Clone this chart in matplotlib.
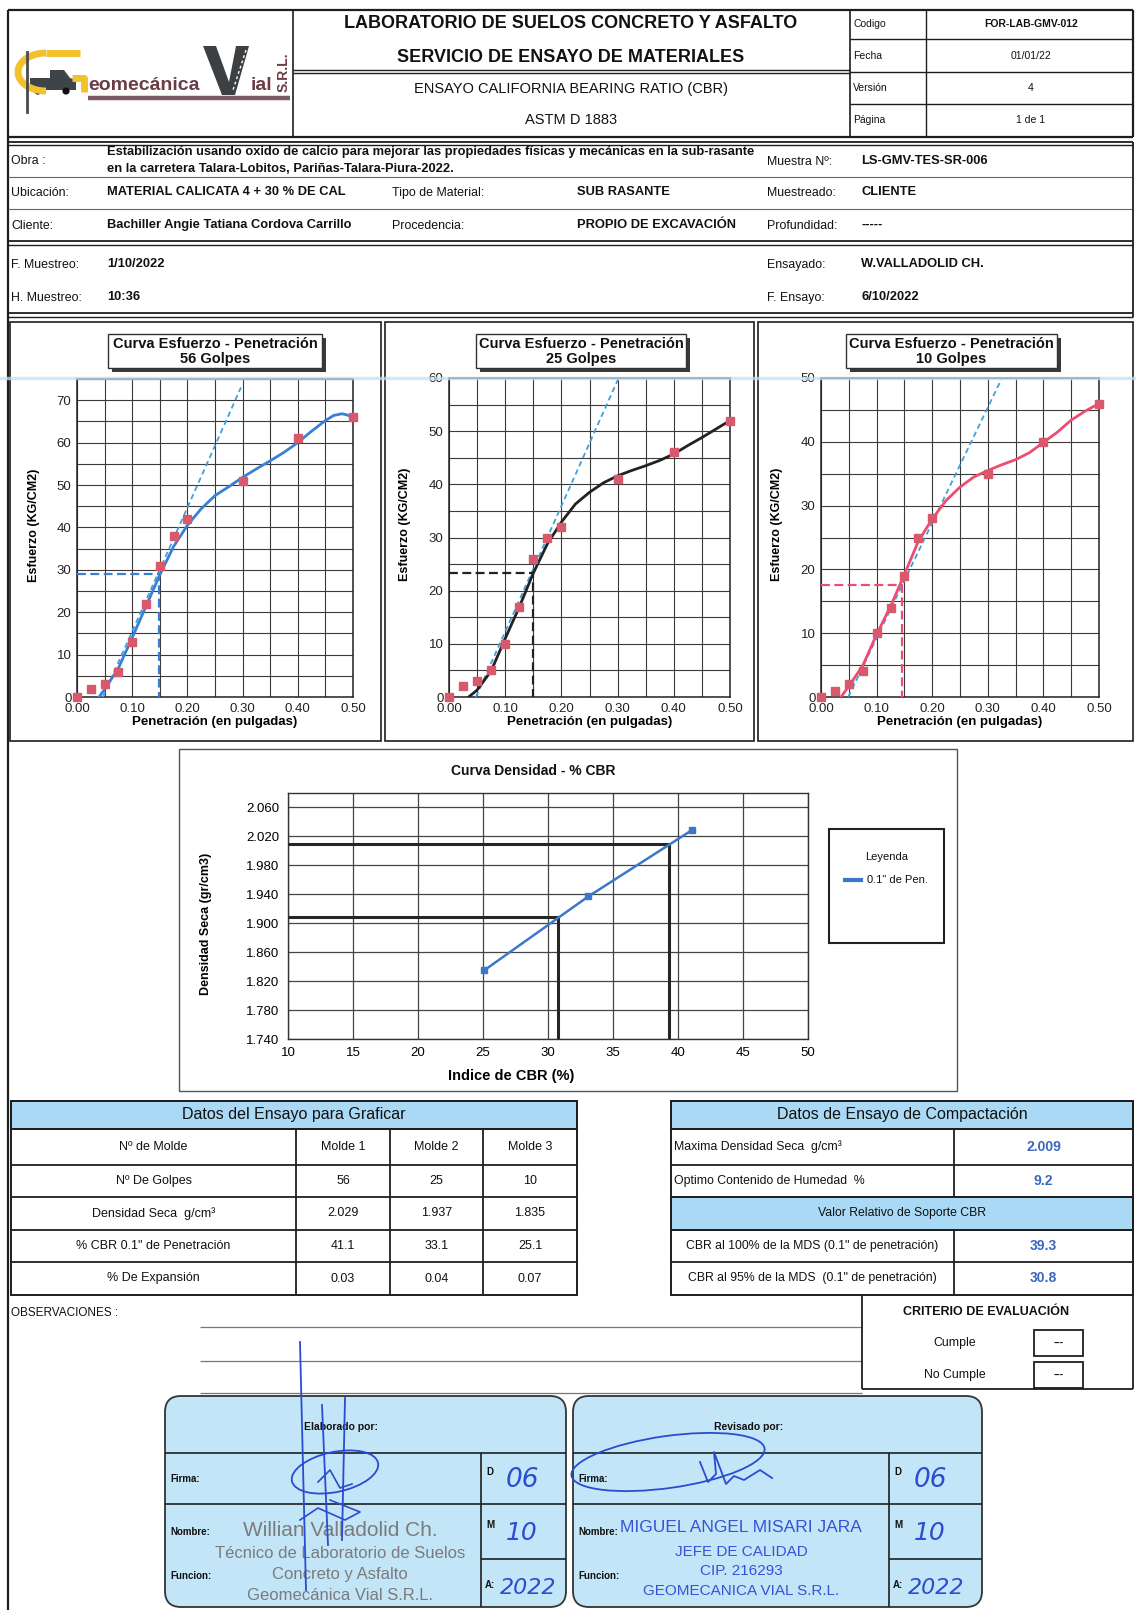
import numpy as np
import matplotlib
matplotlib.use("Agg")
import matplotlib.pyplot as plt
from matplotlib.patches import Rectangle, FancyBboxPatch, Ellipse, Polygon, Circle
from matplotlib.lines import Line2D

# ---------------------------------------------------------------- data
penetration = [0.0, 0.025, 0.05, 0.075, 0.10, 0.125, 0.15, 0.175, 0.20, 0.30, 0.40, 0.50]
stress_56 = [0, 2, 3, 6, 13, 22, 31, 38, 42, 51, 61, 66]
stress_25 = [0, 2, 3, 5, 10, 17, 26, 30, 32, 41, 46, 52]
stress_10 = [0, 1, 2, 4, 10, 14, 19, 25, 28, 35, 40, 46]

# fitted (corrected) stress-penetration curves
curve_x_56 = [0.040, 0.05, 0.075, 0.10, 0.125, 0.15, 0.175, 0.20, 0.225, 0.25, 0.275, 0.30,
              0.325, 0.35, 0.375, 0.40, 0.425, 0.45, 0.465, 0.48, 0.49, 0.50]
curve_y_56 = [0.0, 1.8, 6.8, 14.0, 21.4, 28.8, 35.5, 40.5, 44.4, 47.5, 49.6, 51.8,
              53.8, 55.7, 57.7, 60.0, 62.7, 65.2, 66.4, 66.8, 66.5, 65.8]
curve_x_25 = [0.035, 0.05, 0.075, 0.10, 0.125, 0.15, 0.175, 0.20, 0.225, 0.25, 0.275, 0.30,
              0.325, 0.35, 0.375, 0.40, 0.425, 0.45, 0.475, 0.50]
curve_y_25 = [0.0, 1.3, 4.9, 11.0, 16.9, 23.3, 28.8, 32.9, 36.3, 38.5, 40.3, 41.6,
              42.6, 43.5, 44.5, 45.7, 47.3, 48.8, 50.4, 52.0]
curve_x_10 = [0.036, 0.05, 0.075, 0.10, 0.125, 0.15, 0.175, 0.20, 0.225, 0.25, 0.275, 0.30,
              0.325, 0.35, 0.375, 0.40, 0.425, 0.45, 0.475, 0.50]
curve_y_10 = [0.0, 1.7, 4.9, 9.8, 14.2, 19.2, 24.4, 27.9, 30.8, 32.9, 34.5, 35.5,
              36.4, 37.2, 38.3, 39.9, 41.5, 43.4, 44.8, 46.0]

# tangent lines (x0, y0, x1, y1)
tangent_56 = [0.047, 0.0, 0.297, 73.0]
tangent_25 = [0.048, 0.0, 0.301, 59.8]
tangent_10 = [0.049, 0.0, 0.325, 49.9]

# corrected stress at 0.1" (kg/cm2) and its abscissa on the raw axis
corr_56 = [0.149, 28.9]
corr_25 = [0.149, 23.3]
corr_10 = [0.145, 17.6]

molde_labels = ["Molde 1", "Molde 2", "Molde 3"]
golpes = [56, 25, 10]
densidad = [2.029, 1.937, 1.835]
cbr_01 = [41.1, 33.1, 25.1]
expansion = [0.03, 0.04, 0.07]

mds = 2.009
omc = 9.2
cbr_100 = 39.3
cbr_95 = 30.8

density_ticks = [1.740, 1.780, 1.820, 1.860, 1.900, 1.940, 1.980, 2.020, 2.060]
cbr_ticks = [10, 15, 20, 25, 30, 35, 40, 45, 50]

# ---------------------------------------------------------------- page
W, H = 1136, 1614
fig = plt.figure(figsize=(W / 100, H / 100), dpi=100)
fig.patch.set_facecolor("white")
bg = fig.add_axes([0, 0, 1, 1])
bg.set_xlim(0, W)
bg.set_ylim(H, 0)
bg.axis("off")

NARROW = ["Liberation Sans Narrow", "Liberation Sans", "DejaVu Sans"]
ARIAL = ["Liberation Sans", "DejaVu Sans"]
plt.rcParams["font.family"] = ARIAL

INK = "#1e1e1e"
BLUE_FILL = "#a9d9f5"
VAL_BLUE = "#3a68c0"
PEN = "#2a4ccf"


def px_axes(x0, y0, x1, y1):
    return fig.add_axes([x0 / W, 1 - y1 / H, (x1 - x0) / W, (y1 - y0) / H])


def line(x0, y0, x1, y1, lw=1.0, color=INK, **kw):
    bg.plot([x0, x1], [y0, y1], color=color, lw=lw, solid_capstyle="butt", **kw)


def txt(x, y, s, size=8.5, weight="normal", ha="left", color="#111", family=ARIAL, **kw):
    bg.text(x, y, s, fontsize=size, fontweight=weight, ha=ha, va="center",
            color=color, family=family, **kw)


def box(x0, y0, x1, y1, lw=1.2, fc="none", ec=INK, z=1):
    bg.add_patch(Rectangle((x0, y0), x1 - x0, y1 - y0, fill=fc != "none",
                           facecolor=fc, edgecolor=ec, lw=lw, zorder=z))


# ---------------------------------------------------------------- header
line(8, 10, 1133, 10, lw=1.6)
line(8, 10, 8, 1610, lw=1.6)
line(1133, 10, 1133, 137, lw=1.6)
line(8, 137, 1133, 137, lw=1.6)
line(293, 10, 293, 137, lw=1.2)
line(850, 10, 850, 137, lw=1.2)
line(926, 10, 926, 137, lw=1.0)
for yy in (39, 72, 104):
    line(850, yy, 1133, yy, lw=1.0)
line(293, 70, 850, 70, lw=1.0)
line(293, 73, 850, 73, lw=1.0)

txt(571, 23, "LABORATORIO DE SUELOS CONCRETO Y ASFALTO", 13, "bold", "center", family=NARROW)
txt(571, 57, "SERVICIO DE ENSAYO DE MATERIALES", 13, "bold", "center", family=NARROW)
txt(571, 89, "ENSAYO CALIFORNIA BEARING RATIO (CBR)", 10.5, "normal", "center", family=NARROW)
txt(571, 120, "ASTM D 1883", 10.5, "normal", "center", family=NARROW)
for yy, lab, val in [(24, "Codigo", "FOR-LAB-GMV-012"), (56, "Fecha", "01/01/22"),
                     (88, "Versión", "4"), (120, "Página", "1 de 1")]:
    txt(853, yy, lab, 7.5, family=NARROW)
    txt(1031, yy, val, 7.5, "bold" if lab == "Codigo" else "normal", "center", family=NARROW)

# logo
t = np.linspace(np.pi / 2, 3 * np.pi / 2, 40)
bg.plot(46 + 28 * np.cos(t), 72 - 19 * np.sin(t), color="#f2c12e", lw=5, solid_capstyle="butt")
bg.plot([46, 80], [53, 53], color="#f2c12e", lw=5, solid_capstyle="butt")
bg.plot([72, 84, 84], [78, 78, 92], color="#f2c12e", lw=5, solid_capstyle="butt")
bg.plot([27, 27], [52, 112], color="#4a4a4a", lw=2)
bg.add_patch(Polygon([[30, 78], [50, 78], [50, 70], [64, 70], [70, 78], [76, 80],
                      [76, 90], [30, 90]], closed=True, fc="#3e4447", ec="none"))
bg.add_patch(Circle((38, 91), 3.6, fc="#111", ec="none"))
bg.add_patch(Circle((66, 91), 3.6, fc="#111", ec="none"))
txt(88, 85, "eomecánica", 14, "bold", color="#6b3c45", family=NARROW)
bg.plot([88, 290], [98, 98], color="#7d5a66", lw=3.2, solid_capstyle="butt")
bg.add_patch(Polygon([[203, 46], [216, 46], [229, 82], [236, 46], [249, 46], [235, 95], [222, 95]],
                     closed=True, fc="#3c4043", ec="none"))
bg.plot([246, 233], [50, 90], color="white", lw=1, dashes=(2, 2))
txt(251, 85, "ial", 14, "bold", color="#6b3c45", family=NARROW)
txt(284, 72, "S.R.L.", 10, "bold", "center", color="#6b3c45", rotation=90)

# ---------------------------------------------------------------- general info
line(8, 142, 1133, 142, lw=1.3)
line(8, 145, 1133, 145, lw=1.0)
line(8, 177, 1133, 177, lw=0.8, color="#666")
line(8, 209, 1133, 209, lw=0.8, color="#666")
line(8, 241, 1133, 241, lw=1.3)
line(8, 245, 1133, 245, lw=1.0)
line(8, 313, 1133, 313, lw=1.3)
line(8, 317, 1133, 317, lw=1.0)
line(1133, 142, 1133, 317, lw=1.3)

FL = 8.9   # labels
FV = 9.3   # values
txt(11, 161, "Obra :", FL)
txt(107, 152, "Estabilización usando oxido de calcio para mejorar las propiedades físicas y mecánicas en la sub-rasante", FV, "bold")
txt(107, 169, "en la carretera Talara-Lobitos, Pariñas-Talara-Piura-2022.", FV, "bold")
txt(767, 162, "Muestra Nº:", FL)
txt(861, 161, "LS-GMV-TES-SR-006", FV, "bold")
txt(11, 193, "Ubicación:", FL)
txt(107, 192, "MATERIAL CALICATA 4 + 30 % DE CAL", FV, "bold")
txt(392, 193, "Tipo de Material:", FL)
txt(577, 192, "SUB RASANTE", FV, "bold")
txt(767, 193, "Muestreado:", FL)
txt(861, 192, "CLIENTE", FV, "bold")
txt(11, 226, "Cliente:", FL)
txt(107, 225, "Bachiller Angie Tatiana Cordova Carrillo", FV, "bold")
txt(392, 226, "Procedencia:", FL)
txt(577, 225, "PROPIO DE EXCAVACIÓN", FV, "bold")
txt(767, 226, "Profundidad:", FL)
txt(861, 225, "-----", FV, "bold")
txt(11, 265, "F. Muestreo:", FL)
txt(107, 264, "1/10/2022", FV, "bold")
txt(767, 265, "Ensayado:", FL)
txt(861, 264, "W.VALLADOLID CH.", FV, "bold")
txt(11, 298, "H. Muestreo:", FL)
txt(107, 297, "10:36", FV, "bold")
txt(767, 298, "F. Ensayo:", FL)
txt(861, 297, "6/10/2022", FV, "bold")

# ---------------------------------------------------------------- stress-penetration charts
for x0, x1 in [(10, 381), (385, 754), (758, 1133)]:
    box(x0, 322, x1, 741, lw=1.2)


def title_box(x0, x1, golpes_txt):
    bg.add_patch(Rectangle((x0 + 4, 338), x1 - x0, 34, fc="#3a3a3a", ec="none", zorder=2))
    bg.add_patch(Rectangle((x0, 334), x1 - x0, 34, fc="white", ec="#333", lw=1.0, zorder=3))
    bg.text((x0 + x1) / 2, 344, "Curva Esfuerzo - Penetración", fontsize=10.5, fontweight="bold",
            ha="center", va="center", zorder=4, color="#111")
    bg.text((x0 + x1) / 2, 359, golpes_txt, fontsize=10.5, fontweight="bold",
            ha="center", va="center", zorder=4, color="#111")


def stress_chart(rect, ymax, stress, cx, cy, color, tangent, corr, corr_color):
    ax = px_axes(*rect)
    ax.set_xlim(0, 0.5)
    ax.set_ylim(0, ymax)
    ax.set_xticks([0, 0.1, 0.2, 0.3, 0.4, 0.5])
    ax.set_xticklabels(["0.00", "0.10", "0.20", "0.30", "0.40", "0.50"])
    ax.set_xticks([0.05, 0.15, 0.25, 0.35, 0.45], minor=True)
    ax.set_yticks(list(range(0, int(ymax) + 1, 10)))
    ax.set_yticks(list(range(5, int(ymax) + 1, 10)), minor=True)
    ax.grid(which="both", color="#3a3a3a", lw=0.8)
    ax.set_axisbelow(True)
    ax.tick_params(which="both", length=0, labelsize=9.5, colors="#222", pad=4)
    for sp in ax.spines.values():
        sp.set_color("#222")
        sp.set_linewidth(1.1)
    ax.set_ylabel("Esfuerzo (KG/CM2)", fontsize=9, fontweight="bold")
    ax.yaxis.set_label_coords(-0.135, 0.54)
    ax.set_xlabel("Penetración (en pulgadas)", fontsize=9.5, fontweight="bold", labelpad=1)
    ax.plot([tangent[0], tangent[2]], [tangent[1], tangent[3]], color="#3fa0dc", lw=1.3,
            dashes=(3, 2), zorder=3)
    ax.plot([0, corr[0], corr[0]], [corr[1], corr[1], 0], color=corr_color, lw=1.6,
            dashes=(4, 2), zorder=3)
    ax.plot(cx, cy, color=color, lw=2.0, zorder=4, solid_joinstyle="round")
    ax.plot(penetration, stress, ls="none", marker="s", ms=5.2, color="#d8596c", zorder=5,
            clip_on=False)
    return ax


title_box(108, 322, "56 Golpes")
title_box(476, 686, "25 Golpes")
title_box(846, 1057, "10 Golpes")
stress_chart((77, 379, 353, 697), 75, stress_56, curve_x_56, curve_y_56, "#3a7fd6",
             tangent_56, corr_56, "#3a7fd6")
stress_chart((449, 378, 730, 697), 60, stress_25, curve_x_25, curve_y_25, "#222222",
             tangent_25, corr_25, "#222222")
stress_chart((821, 378, 1099, 697), 50, stress_10, curve_x_10, curve_y_10, "#ee4d72",
             tangent_10, corr_10, "#ee4d72")

# ---------------------------------------------------------------- density vs CBR chart
box(179, 749, 957, 1091, lw=1.0, ec="#555")
txt(533, 771, "Curva Densidad - % CBR", 10, "bold", "center", family=NARROW)
axd = px_axes(288, 793, 808, 1039)
axd.set_xlim(10, 50)
axd.set_ylim(1.74, 2.08)
axd.set_xticks(cbr_ticks)
axd.set_yticks(density_ticks)
axd.set_yticklabels([f"{v:.3f}" for v in density_ticks])
axd.grid(color="#444", lw=0.9)
axd.set_axisbelow(True)
axd.tick_params(length=0, labelsize=9.5, pad=6)
for lab in axd.get_xticklabels() + axd.get_yticklabels():
    lab.set_family(NARROW)
for sp in axd.spines.values():
    sp.set_color("#333")
    sp.set_linewidth(1.0)
axd.set_ylabel("Densidad Seca (gr/cm3)", fontsize=9, fontweight="bold")
axd.yaxis.set_label_coords(-0.146, 0.47)
axd.set_xlabel("Indice de CBR (%)", fontsize=10.5, fontweight="bold", family=NARROW)
axd.xaxis.set_label_coords(0.43, -0.122)
dens95 = round(mds * 0.95, 3)
axd.plot([10, cbr_100, cbr_100], [mds, mds, 1.74], color="#262626", lw=2.2, zorder=3)
axd.plot([10, cbr_95, cbr_95], [dens95, dens95, 1.74], color="#262626", lw=2.2, zorder=3)
axd.plot(cbr_01, densidad, color="#3b78c9", lw=1.8, marker="s", ms=4, zorder=4, clip_on=False)

box(829, 829, 944, 943, lw=1.5, ec="#222")
txt(887, 857, "Leyenda", 8, "normal", "center", family=NARROW)
bg.plot([845, 861], [880, 880], color="#3b78c9", lw=3)
txt(867, 880, "0.1\" de Pen.", 8, family=NARROW)

# ---------------------------------------------------------------- test data table
ty = [1101, 1129, 1165, 1197, 1230, 1262, 1295]
tx = [11, 296, 390, 483, 577]
box(tx[0], ty[0], tx[-1], ty[1], lw=1.4, fc=BLUE_FILL)
box(tx[0], ty[0], tx[-1], ty[-1], lw=1.4)
for yy in ty[1:-1]:
    line(tx[0], yy, tx[-1], yy, lw=1.3)
for xx in tx[1:-1]:
    line(xx, ty[1], xx, ty[-1], lw=1.3)
txt((tx[0] + tx[-1]) / 2, 1115, "Datos del Ensayo para Graficar", 11.5, "normal", "center", family=NARROW)
rows = [("Nº de Molde", molde_labels),
        ("Nº De Golpes", [str(g) for g in golpes]),
        ("Densidad Seca  g/cm³", [f"{d:.3f}" for d in densidad]),
        ("% CBR 0.1\" de Penetración", [f"{c:.1f}" for c in cbr_01]),
        ("% De Expansión", [f"{e:.2f}" for e in expansion])]
for i, (lab, vals) in enumerate(rows):
    yc = (ty[i + 1] + ty[i + 2]) / 2
    txt((tx[0] + tx[1]) / 2, yc, lab, 9, "normal", "center", family=NARROW)
    for j, v in enumerate(vals):
        txt((tx[j + 1] + tx[j + 2]) / 2, yc, v, 9, "normal", "center", family=NARROW)

# ---------------------------------------------------------------- compaction table
cx0, cxm, cx1 = 671, 954, 1133
box(cx0, ty[0], cx1, ty[1], lw=1.4, fc=BLUE_FILL)
box(cx0, ty[3], cx1, ty[4], lw=1.3, fc=BLUE_FILL)
box(cx0, ty[0], cx1, ty[-1], lw=1.4)
for yy in ty[1:-1]:
    line(cx0, yy, cx1, yy, lw=1.3)
line(cxm, ty[1], cxm, ty[3], lw=1.3)
line(cxm, ty[4], cxm, ty[6], lw=1.3)
txt((cx0 + cx1) / 2, 1115, "Datos de Ensayo de Compactación", 11.5, "normal", "center", family=NARROW)
vx = (cxm + cx1) / 2
txt(674, 1147, "Maxima Densidad Seca  g/cm³", 8.8, family=NARROW)
txt(vx, 1147, f"{mds:.3f}", 10, "bold", "center", color=VAL_BLUE)
txt(674, 1181, "Optimo Contenido de Humedad  %", 8.8, family=NARROW)
txt(vx, 1181, f"{omc:.1f}", 10, "bold", "center", color=VAL_BLUE)
txt((cx0 + cx1) / 2, 1213, "Valor Relativo de Soporte CBR", 8.8, "normal", "center", family=NARROW)
txt((cx0 + cxm) / 2, 1246, "CBR al 100% de la MDS (0.1\" de penetración)", 8.8, "normal", "center", family=NARROW)
txt(vx, 1246, f"{cbr_100:.1f}", 10, "bold", "center", color=VAL_BLUE)
txt((cx0 + cxm) / 2, 1278, "CBR al 95% de la MDS  (0.1\" de penetración)", 8.8, "normal", "center", family=NARROW)
txt(vx, 1278, f"{cbr_95:.1f}", 10, "bold", "center", color=VAL_BLUE)

# ---------------------------------------------------------------- observations / criteria
txt(11, 1313, "OBSERVACIONES :", 8.5, family=NARROW)
for yy in (1327, 1361, 1393):
    line(200, yy, 862, yy, lw=0.9, color="#777")
line(862, 1295, 862, 1389, lw=1.3)
line(862, 1389, 1133, 1389, lw=1.3)
line(1133, 1295, 1133, 1389, lw=1.3)
txt(986, 1312, "CRITERIO DE EVALUACIÓN", 9, "bold", "center")
txt(955, 1343, "Cumple", 8.8, "normal", "center")
txt(955, 1375, "No Cumple", 8.8, "normal", "center")
for y0 in (1330, 1362):
    box(1034, y0, 1083, y0 + 26, lw=1.3)
    txt(1058.5, y0 + 13, "---", 7.5, "bold", "center")


# ---------------------------------------------------------------- signature blocks
def sign_block(x0, x1, xs, heading):
    bg.add_patch(FancyBboxPatch((x0, 1396), x1 - x0, 211,
                                boxstyle="round,pad=0,rounding_size=16",
                                fc="#c3e5f8", ec="#333", lw=1.3, zorder=1))
    line(x0, 1453, x1, 1453, lw=1.2)
    line(x0, 1504, x1, 1504, lw=1.2)
    line(xs, 1559, x1, 1559, lw=1.2)
    line(xs, 1453, xs, 1607, lw=1.2)
    txt((x0 + xs) / 2 + 18, 1427, heading, 7.5, "bold", "center")
    txt(x0 + 5, 1479, "Firma:", 7, "bold")
    txt(x0 + 5, 1532, "Nombre:", 7, "bold")
    txt(x0 + 5, 1576, "Funcion:", 7, "bold")
    txt(xs + 5, 1472, "D", 7, "bold")
    txt(xs + 5, 1525, "M", 7, "bold")
    txt(xs + 4, 1585, "A:", 7, "bold")
    txt(xs + 25, 1480, "06", 19, color=PEN, style="italic", family=["DejaVu Sans"])
    txt(xs + 25, 1533, "10", 18, color=PEN, style="italic", family=["DejaVu Sans"])
    txt(xs + 19, 1588, "2022", 16, color=PEN, style="italic", family=["DejaVu Sans"])


sign_block(165, 566, 481, "Elaborado por:")
sign_block(573, 982, 889, "Revisado por:")

GREY = "#7b7b7b"
txt(340, 1530, "Willian Valladolid Ch.", 15, "normal", "center", color=GREY)
txt(340, 1554, "Técnico de Laboratorio de Suelos", 12, "normal", "center", color=GREY)
txt(340, 1575, "Concreto y Asfalto", 12, "normal", "center", color=GREY)
txt(340, 1596, "Geomecánica Vial S.R.L.", 12, "normal", "center", color=GREY)
STAMP = "#3653d8"
txt(741, 1528, "MIGUEL ANGEL MISARI JARA", 12.5, "normal", "center", color=STAMP, family=NARROW)
txt(741, 1552, "JEFE DE CALIDAD", 11, "normal", "center", color=STAMP, family=NARROW)
txt(741, 1571, "CIP. 216293", 11, "normal", "center", color=STAMP, family=NARROW)
txt(741, 1591, "GEOMECANICA VIAL S.R.L.", 11, "normal", "center", color=STAMP, family=NARROW)

# hand signatures
bg.add_patch(Ellipse((335, 1472), 88, 40, angle=-12, fc="none", ec=PEN, lw=1.3, zorder=5))
for xs0, ys0, xs1, ys1 in [(300, 1342, 306, 1590), (322, 1405, 328, 1545), (345, 1398, 342, 1540)]:
    bg.plot([xs0, xs1], [ys0, ys1], color=PEN, lw=1.3, zorder=5)
bg.plot([300, 318, 345, 360, 330], [1520, 1508, 1520, 1512, 1500], color=PEN, lw=1.2, zorder=5)
bg.plot([318, 330, 340, 352], [1482, 1470, 1488, 1484], color=PEN, lw=1.2, zorder=5)
bg.add_patch(Ellipse((668, 1462), 195, 52, angle=-8, fc="none", ec=PEN, lw=1.3, zorder=5))
bg.plot([700, 708, 716, 714, 726, 734, 744, 760, 772],
        [1462, 1482, 1474, 1452, 1484, 1476, 1480, 1470, 1478], color=PEN, lw=1.3, zorder=5)

# faint scanner streak across the page
fig.add_artist(Line2D([0, 1], [1 - 378 / H, 1 - 378 / H], transform=fig.transFigure,
                      color="#bfe2f6", lw=2.5, alpha=0.75, zorder=20))

fig.savefig("out.png", dpi=100, facecolor="white")
